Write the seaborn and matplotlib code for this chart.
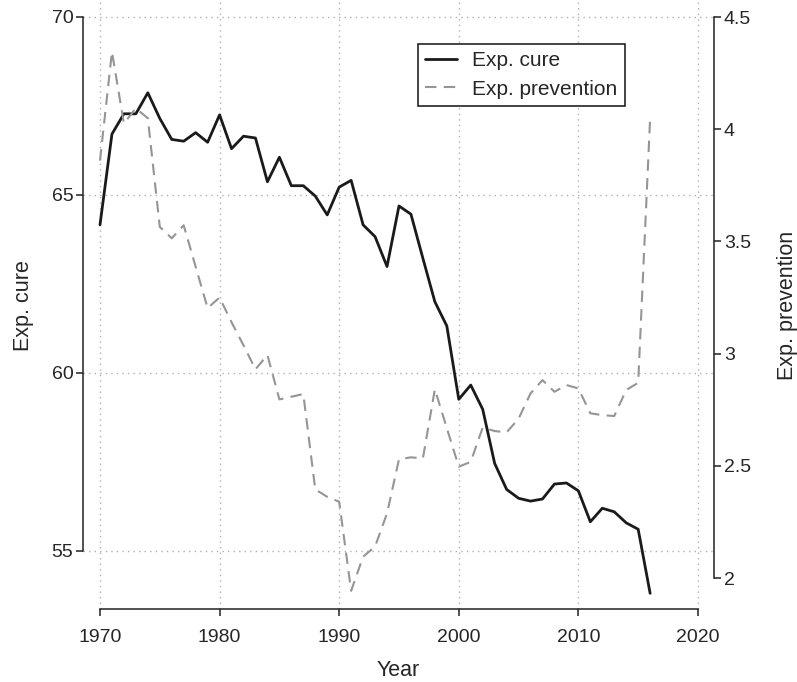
import pandas as pd
import numpy as np
import matplotlib
matplotlib.use("Agg")
import matplotlib.pyplot as plt
import seaborn as sns

# data
years = list(range(1970, 2017))
exp_cure = [64.16, 66.71, 67.28, 67.28, 67.87, 67.15, 66.56, 66.51, 66.75, 66.48,
            67.25, 66.30, 66.65, 66.60, 65.37, 66.06, 65.26, 65.26, 64.97, 64.44,
            65.22, 65.41, 64.16, 63.83, 62.99, 64.69, 64.46, 63.22, 62.00, 61.32,
            59.26, 59.66, 58.98, 57.46, 56.73, 56.48, 56.40, 56.46, 56.88, 56.91,
            56.69, 55.82, 56.20, 56.10, 55.79, 55.61, 53.81]
exp_prev = [3.86, 4.345, 4.026, 4.093, 4.049, 3.565, 3.514, 3.572, 3.387, 3.203,
            3.25, 3.14, 3.037, 2.93, 2.994, 2.796, 2.808, 2.82, 2.395, 2.362,
            2.34, 1.943, 2.095, 2.14, 2.288, 2.529, 2.538, 2.533, 2.841, 2.668,
            2.496, 2.518, 2.671, 2.655, 2.649, 2.71, 2.823, 2.882, 2.83, 2.86,
            2.845, 2.734, 2.726, 2.722, 2.838, 2.87, 4.05]

x_ticks = [1970, 1980, 1990, 2000, 2010, 2020]
left_ticks = [55, 60, 65, 70]
right_ticks = [2, 2.5, 3, 3.5, 4, 4.5]
right_ticklabels = ["2", "2.5", "3", "3.5", "4", "4.5"]

df = pd.DataFrame({"Year": years, "Exp. cure": exp_cure, "Exp. prevention": exp_prev})

sns.set_style("white")
plt.rcParams["font.family"] = ["Liberation Sans", "DejaVu Sans"]

fig = plt.figure(figsize=(7.97, 6.82), dpi=100)
ax = fig.add_axes([83 / 797, 1 - 609 / 682, 631 / 797, 607 / 682])
ax2 = ax.twinx()

sns.lineplot(data=df, x="Year", y="Exp. cure", ax=ax, color="#1a1a1a",
             linewidth=2.0, label="Exp. cure", legend=False)
sns.lineplot(data=df, x="Year", y="Exp. prevention", ax=ax2, color="#959595",
             linewidth=1.5, linestyle=(0, (5.5, 3.5)), label="Exp. prevention", legend=False)

ax.set_xlim(1968.58, 2021.34)
ax.set_ylim(53.37, 70.42)
ax2.set_ylim(1.862, 4.567)

ax.set_xticks(x_ticks)
ax.set_yticks(left_ticks)
ax2.set_yticks(right_ticks)
ax2.set_yticklabels(right_ticklabels)

ax.grid(True, color="#b0b0b0", linestyle=(0, (1, 3)), linewidth=1.0)
ax.set_axisbelow(True)
ax2.grid(False)

for s in ["top", "right"]:
    ax.spines[s].set_visible(False)
for s in ["top", "bottom", "left"]:
    ax2.spines[s].set_visible(False)
ax.spines["bottom"].set_bounds(1970, 2020)
ax.spines["left"].set_bounds(55, 70)
ax2.spines["right"].set_bounds(2, 4.5)
for sp in [ax.spines["bottom"], ax.spines["left"], ax2.spines["right"]]:
    sp.set_color("#222222")
    sp.set_linewidth(1.1)

ax.tick_params(axis="x", direction="out", length=5, width=1.1, color="#222222",
               labelsize=14, pad=9.5, bottom=True)
ax.tick_params(axis="y", direction="out", length=5, width=1.1, color="#222222",
               labelsize=14, pad=2, left=True)
ax2.tick_params(axis="y", direction="out", length=5, width=1.1, color="#222222",
                labelsize=14, pad=2, right=True)

ax.set_xlabel("Year", fontsize=15.5, labelpad=10)
ax.set_ylabel("Exp. cure", fontsize=15.5, labelpad=12.5)
ax2.set_ylabel("Exp. prevention", fontsize=15.5, labelpad=18.5)

h1, l1 = ax.get_legend_handles_labels()
h2, l2 = ax2.get_legend_handles_labels()
leg = ax2.legend(h1 + h2, l1 + l2, loc="upper left", bbox_to_anchor=(0.531, 0.931),
                 borderaxespad=0, fontsize=15, frameon=True, fancybox=False,
                 handlelength=1.5, handletextpad=0.75, labelspacing=0.45,
                 borderpad=0.35, edgecolor="#111111", framealpha=1)
leg.get_frame().set_linewidth(1.1)

fig.savefig("out.png", dpi=100)
